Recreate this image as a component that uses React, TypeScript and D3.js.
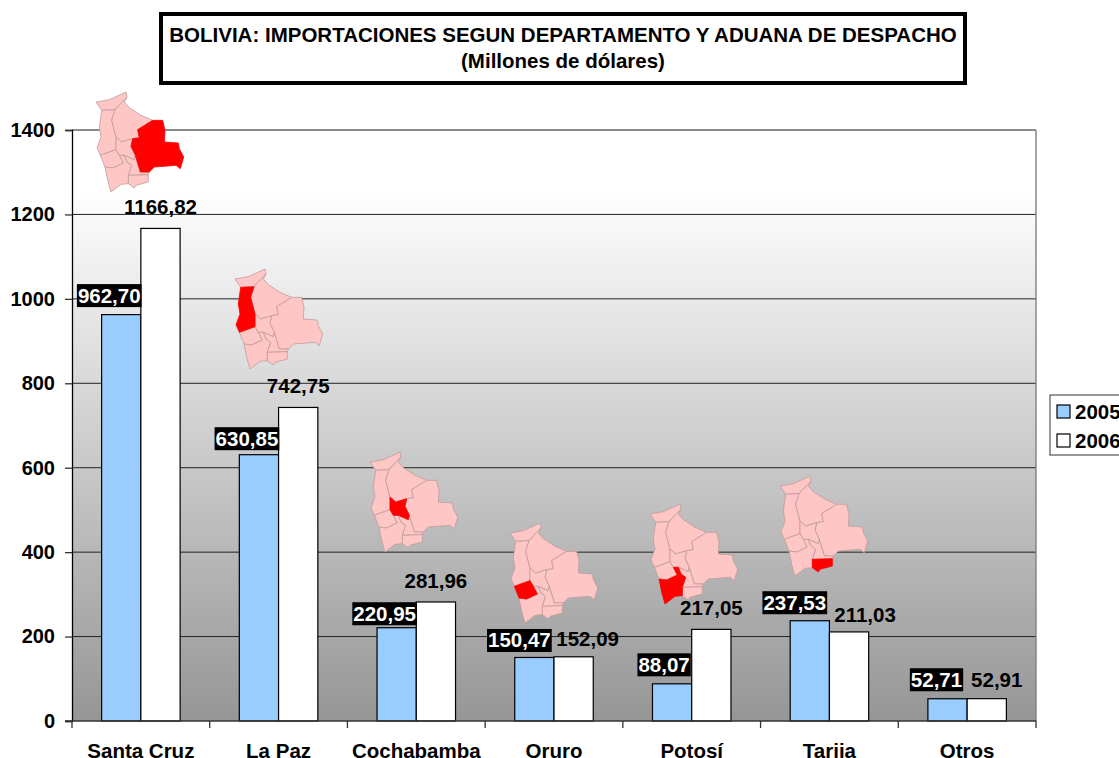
import * as d3 from 'd3';
import React, { useRef, useEffect } from 'react';

const categories = ['Santa Cruz', 'La Paz', 'Cochabamba', 'Oruro', 'Potosí', 'Tarija', 'Otros'];
const seriesNames = ['2005', '2006'];
const values2005 = [962.7, 630.85, 220.95, 150.47, 88.07, 237.53, 52.71];
const values2006 = [1166.82, 742.75, 281.96, 152.09, 217.05, 211.03, 52.91];
const yTicks = [0, 200, 400, 600, 800, 1000, 1200, 1400];

// label nudges, the original labels were dragged by hand
const shift2005 = [[-12, -19], [-12, -16], [-12, -14], [-15, -17], [-8, -19], [-15, -18], [-11, -19]];
const shift2006 = [[0, -21], [0, -21], [0, -21], [14, -18], [0, -21], [16, -17], [10, -19]];

// little map of Bolivia, one outline per department, traced at 3x
const departments: Record<string, number[][]> = {
  Pando: [[15, 45], [55, 38], [105, 15], [108, 30], [72, 68], [32, 70]],
  'La Paz': [[32, 70], [72, 68], [62, 100], [75, 150], [75, 188], [28, 205], [18, 182], [30, 150], [25, 120]],
  Beni: [[72, 68], [108, 30], [100, 45], [115, 62], [150, 85], [185, 100], [140, 128], [145, 152], [125, 155], [92, 165], [75, 150], [62, 100]],
  'Santa Cruz': [[185, 100], [215, 100], [222, 130], [220, 165], [262, 168], [265, 185], [278, 210], [268, 245], [255, 235], [190, 240], [175, 255], [148, 255], [133, 205], [120, 178], [125, 155], [145, 152], [140, 128]],
  Oruro: [[28, 205], [75, 188], [85, 205], [97, 228], [65, 243], [42, 240]],
  Cochabamba: [[75, 150], [92, 165], [125, 155], [120, 178], [133, 205], [130, 218], [100, 205], [85, 205], [75, 188]],
  'Potosí': [[85, 205], [100, 205], [108, 225], [122, 235], [112, 265], [112, 290], [90, 292], [60, 315], [50, 280], [42, 240], [65, 243], [97, 228]],
  Chuquisaca: [[100, 205], [130, 218], [133, 205], [148, 255], [175, 255], [172, 263], [112, 265], [122, 235], [108, 225]],
  Tarija: [[112, 265], [172, 263], [172, 285], [135, 295], [130, 303], [112, 290]],
};
const mapCorners = [[91, 87], [230, 264], [365, 447], [505, 518], [645, 499], [775, 471]];

const FONT = '"Liberation Sans", Arial, sans-serif';
const BLUE = '#99ccff';

const App = () => {
  const ref = useRef<SVGSVGElement>(null);

  useEffect(() => {
    const svg = d3.select(ref.current);
    svg.selectAll('*').remove();

    const plot = { left: 72, right: 1036, top: 130, bottom: 721 };

    const x = d3.scaleBand().domain(categories).range([plot.left, plot.right]).paddingInner(0.43).paddingOuter(0.215);
    const xSeries = d3.scaleBand().domain(seriesNames).range([0, x.bandwidth()]);
    const step = x.step();
    const y = d3.scaleLinear().domain([0, 1400]).range([plot.bottom, plot.top]);

    const grad = svg.append('defs').append('linearGradient')
      .attr('id', 'bg').attr('x1', 0).attr('y1', 0).attr('x2', 0).attr('y2', 1);
    grad.append('stop').attr('offset', '0.1').attr('stop-color', '#ffffff');
    grad.append('stop').attr('offset', '1').attr('stop-color', '#969696');

    svg.append('rect')
      .attr('x', plot.left).attr('y', plot.top)
      .attr('width', plot.right - plot.left).attr('height', plot.bottom - plot.top)
      .attr('fill', 'url(#bg)');

    // gridlines
    svg.append('g').selectAll('line')
      .data(yTicks.slice(1))
      .enter().append('line')
      .attr('x1', plot.left).attr('x2', plot.right)
      .attr('y1', d => y(d)).attr('y2', d => y(d))
      .attr('stroke', d => (d === 1400 ? '#666666' : '#222222'))
      .attr('stroke-width', d => (d === 1400 ? 1.6 : 1));

    svg.append('line')
      .attr('x1', plot.right).attr('x2', plot.right)
      .attr('y1', plot.top).attr('y2', plot.bottom)
      .attr('stroke', '#808080').attr('stroke-width', 1.4);

    // bars
    [values2005, values2006].forEach((vals, s) => {
      svg.append('g').selectAll('rect')
        .data(vals)
        .enter().append('rect')
        .attr('x', (_, i) => (x(categories[i]) as number) + (xSeries(seriesNames[s]) as number))
        .attr('y', d => y(d))
        .attr('width', xSeries.bandwidth())
        .attr('height', d => plot.bottom - y(d))
        .attr('fill', s === 0 ? BLUE : '#ffffff')
        .attr('stroke', '#000000')
        .attr('stroke-width', 1.2);
    });

    // axes
    const yAxis = svg.append('g').attr('transform', `translate(${plot.left},0)`)
      .call(d3.axisLeft(y).tickValues(yTicks).tickSize(7).tickFormat(d3.format('d') as any));
    yAxis.selectAll('path').attr('stroke', '#000').attr('stroke-width', 1.3);
    yAxis.selectAll('line').attr('stroke', '#333').attr('stroke-width', 1.3);
    yAxis.selectAll('text')
      .attr('x', -17)
      .style('font', `bold 20px ${FONT}`).attr('fill', '#000');

    const xAxis = svg.append('g');
    xAxis.append('line')
      .attr('x1', plot.left - 7).attr('x2', plot.right)
      .attr('y1', plot.bottom).attr('y2', plot.bottom)
      .attr('stroke', '#333').attr('stroke-width', 1.3);
    xAxis.selectAll('line.tick')
      .data(d3.range(categories.length + 1))
      .enter().append('line')
      .attr('class', 'tick')
      .attr('x1', d => plot.left + d * step).attr('x2', d => plot.left + d * step)
      .attr('y1', plot.bottom).attr('y2', plot.bottom + 7)
      .attr('stroke', '#333').attr('stroke-width', 1.3);
    xAxis.selectAll('text')
      .data(categories)
      .enter().append('text')
      .attr('x', d => (x(d) as number) + x.bandwidth() / 2)
      .attr('y', 758)
      .attr('text-anchor', 'middle')
      .style('font', `bold 20.5px ${FONT}`)
      .text(d => d);

    // data labels
    const fmt = (v: number) => v.toFixed(2).replace('.', ',');
    values2005.forEach((v, i) => {
      const cx = (x(categories[i]) as number) + (xSeries('2005') as number) + xSeries.bandwidth() / 2 + shift2005[i][0];
      const cy = y(v) + shift2005[i][1];
      const label = svg.append('g');
      const txt = label.append('text')
        .attr('x', cx).attr('y', cy + 7)
        .attr('text-anchor', 'middle')
        .attr('fill', '#ffffff')
        .style('font', `bold 20.5px ${FONT}`)
        .text(fmt(v));
      const w = (txt.node() as SVGTextElement).getComputedTextLength();
      label.insert('rect', 'text')
        .attr('x', cx - w / 2 - 1).attr('y', cy - 11.5)
        .attr('width', w + 2).attr('height', 23)
        .attr('fill', '#000000');
    });
    values2006.forEach((v, i) => {
      svg.append('text')
        .attr('x', (x(categories[i]) as number) + (xSeries('2006') as number) + xSeries.bandwidth() / 2 + shift2006[i][0])
        .attr('y', y(v) + shift2006[i][1] + 7)
        .attr('text-anchor', 'middle')
        .attr('fill', '#000000')
        .style('font', `bold 20.5px ${FONT}`)
        .text(fmt(v));
    });

    // maps
    const outline = d3.line().curve(d3.curveLinearClosed);
    categories.slice(0, mapCorners.length).forEach((name, i) => {
      const g = svg.append('g')
        .attr('transform', `translate(${mapCorners[i][0]},${mapCorners[i][1]}) scale(${1 / 3})`);
      Object.keys(departments)
        .sort((a, b) => Number(a === name) - Number(b === name))
        .forEach(dep => {
          g.append('path')
            .attr('d', outline(departments[dep] as [number, number][]))
            .attr('fill', dep === name ? '#ff0000' : '#ffc6c6')
            .attr('stroke', dep === name ? '#ff0000' : '#c09c9c')
            .attr('stroke-width', 2.4)
            .attr('stroke-linejoin', 'round');
        });
    });

    // title box
    svg.append('rect')
      .attr('x', 161).attr('y', 14).attr('width', 804).attr('height', 69)
      .attr('fill', '#ffffff').attr('stroke', '#000').attr('stroke-width', 4);
    svg.append('text')
      .attr('x', 563).attr('y', 42).attr('text-anchor', 'middle')
      .style('font', `bold 20.5px ${FONT}`)
      .text('BOLIVIA: IMPORTACIONES SEGUN DEPARTAMENTO Y ADUANA DE DESPACHO');
    svg.append('text')
      .attr('x', 563).attr('y', 68).attr('text-anchor', 'middle')
      .style('font', `bold 20.5px ${FONT}`)
      .text('(Millones de dólares)');

    // legend, runs off the right edge like the original
    svg.append('rect')
      .attr('x', 1050).attr('y', 395).attr('width', 80).attr('height', 60)
      .attr('fill', '#ffffff').attr('stroke', '#333333').attr('stroke-width', 1);
    seriesNames.forEach((name, i) => {
      svg.append('rect')
        .attr('x', 1057).attr('y', 405 + i * 29).attr('width', 13).attr('height', 13)
        .attr('fill', i === 0 ? BLUE : '#ffffff')
        .attr('stroke', '#000').attr('stroke-width', 1.2);
      svg.append('text')
        .attr('x', 1075).attr('y', 419 + i * 29)
        .style('font', `bold 20.5px ${FONT}`)
        .text(name);
    });
  }, []);

  return <svg ref={ref} width={1119} height={758} style={{ position: 'absolute', left: 0, top: 0, background: '#ffffff' }} />;
};

export default App;
